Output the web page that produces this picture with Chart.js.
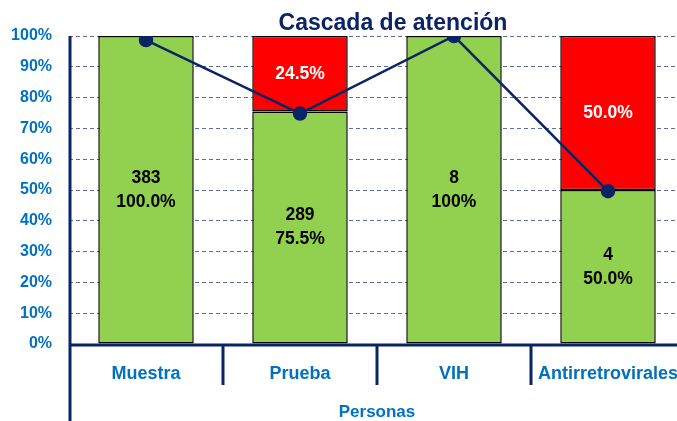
<!DOCTYPE html>
<html lang="es">
<head>
    <meta charset="UTF-8">
    <title>Cascada de atención</title>
    <script src="https://cdn.jsdelivr.net/npm/chart.js@4.4.1/dist/chart.umd.min.js"></script>
    <style>
        body { margin: 0; width: 677px; height: 421px; overflow: hidden; background: #fff; }
    </style>
</head>
<body>
    <canvas id="chart-area" width="700" height="421"></canvas>
    <script>
        // data
        var categories = ['Muestra', 'Prueba', 'VIH', 'Antirretrovirales'];
        var counts = [383, 289, 8, 4];
        var greenPct = [100, 75.5, 100, 50];
        var redPct = [0, 24.5, 0, 50];
        var greenText = ['100.0%', '75.5%', '100%', '50.0%'];
        var redText = ['', '24.5%', '', '50.0%'];
        var linePct = [98.7, 74.8, 100, 49.6];
        var yTicks = [0, 10, 20, 30, 40, 50, 60, 70, 80, 90, 100];

        var navy = '#0B2466';
        var blue = '#0070C0';
        var font = "'Liberation Sans', Arial, sans-serif";

        var decor = {
            id: 'decor',
            afterDraw: function (chart) {
                var ctx = chart.ctx;
                var area = chart.chartArea;
                var x = chart.scales.x;
                var half = (x.getPixelForValue(1) - x.getPixelForValue(0)) / 2;
                ctx.save();
                ctx.strokeStyle = navy;
                ctx.lineWidth = 3;
                ctx.beginPath();
                ctx.moveTo(area.left + 1, area.top);
                ctx.lineTo(area.left + 1, chart.height);
                ctx.moveTo(area.left, area.bottom + 1);
                ctx.lineTo(chart.width, area.bottom + 1);
                for (var i = 1; i < categories.length; i++) {
                    var px = x.getPixelForValue(i) - half;
                    ctx.moveTo(px, area.bottom);
                    ctx.lineTo(px, area.bottom + 41);
                }
                ctx.stroke();

                ctx.fillStyle = navy;
                ctx.font = 'bold 23px ' + font;
                ctx.textAlign = 'center';
                ctx.textBaseline = 'alphabetic';
                ctx.fillText('Cascada de atención', 393, 30);
                ctx.restore();
            },
            afterDatasetsDraw: function (chart) {
                var ctx = chart.ctx;
                ctx.save();
                ctx.font = 'bold 17.5px ' + font;
                ctx.textAlign = 'center';
                ctx.textBaseline = 'middle';
                var g = chart.getDatasetMeta(0).data;
                var r = chart.getDatasetMeta(1).data;
                for (var i = 0; i < categories.length; i++) {
                    var cy = (g[i].y + g[i].base) / 2;
                    ctx.fillStyle = '#000';
                    ctx.fillText(String(counts[i]), g[i].x, cy - 12);
                    ctx.fillText(greenText[i], g[i].x, cy + 12);
                    if (redPct[i] > 0) {
                        ctx.fillStyle = '#fff';
                        ctx.fillText(redText[i], r[i].x, (r[i].y + r[i].base) / 2);
                    }
                }
                ctx.restore();
            }
        };

        var config = {
            type: 'bar',
            data: {
                labels: categories,
                datasets: [{
                    data: greenPct,
                    backgroundColor: '#92D050',
                    borderColor: '#000',
                    borderWidth: 1.5,
                    borderSkipped: false,
                    stack: 'a',
                    order: 1,
                    barPercentage: 0.62,
                    categoryPercentage: 1
                }, {
                    data: redPct,
                    backgroundColor: '#FF0000',
                    borderColor: '#000',
                    borderWidth: 1.5,
                    borderSkipped: false,
                    stack: 'a',
                    order: 1,
                    barPercentage: 0.62,
                    categoryPercentage: 1
                }, {
                    type: 'line',
                    data: linePct,
                    stack: 'line',
                    order: 0,
                    borderColor: navy,
                    borderWidth: 2.5,
                    pointRadius: 6,
                    pointBackgroundColor: navy,
                    pointBorderColor: navy,
                    fill: false
                }]
            },
            options: {
                responsive: false,
                animation: false,
                layout: { padding: { top: 36, right: 15, left: 0, bottom: 0 } },
                plugins: {
                    legend: { display: false },
                    tooltip: { enabled: false }
                },
                scales: {
                    x: {
                        stacked: true,
                        grid: { display: false },
                        border: { display: false },
                        ticks: {
                            color: blue,
                            font: { family: font, size: 18, weight: 'bold' },
                            padding: 11,
                            maxRotation: 0,
                            autoSkip: false
                        },
                        title: {
                            display: true,
                            text: 'Personas',
                            color: blue,
                            font: { family: font, size: 17, weight: 'bold' },
                            padding: { top: 0, bottom: -2 }
                        },
                        afterFit: function (s) { s.height = 77; }
                    },
                    y: {
                        stacked: true,
                        min: 0,
                        max: 100,
                        afterBuildTicks: function (s) {
                            s.ticks = yTicks.map(function (v) { return { value: v }; });
                        },
                        grid: {
                            color: 'rgba(40,60,120,0.75)',
                            drawTicks: false,
                            lineWidth: 1
                        },
                        border: { display: false, dash: [4, 3] },
                        ticks: {
                            color: blue,
                            font: { family: font, size: 16, weight: 'bold' },
                            padding: 17,
                            callback: function (v) { return v + '%'; }
                        },
                        afterFit: function (s) { s.width = 69; }
                    }
                }
            },
            plugins: [decor]
        };

        var ctx = document.getElementById('chart-area').getContext('2d');
        window.myChart = new Chart(ctx, config);
    </script>
</body>
</html>
